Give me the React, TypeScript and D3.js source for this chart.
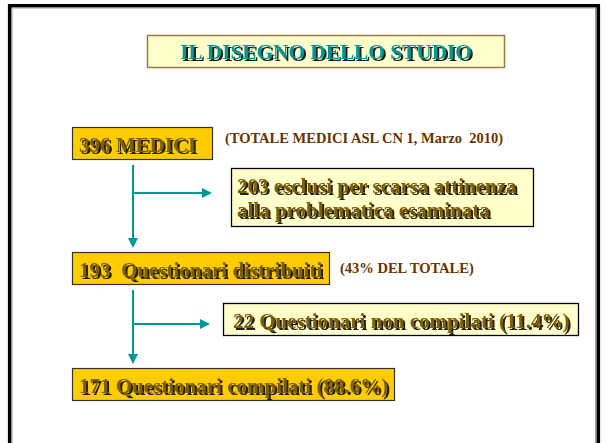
import React from 'react';
import * as d3 from 'd3';

// flow steps (main column) and side branches
const mainLabels = ['396 MEDICI', '193  Questionari distribuiti', '171 Questionari compilati (88.6%)'];
const mainNotes = ['(TOTALE MEDICI ASL CN 1, Marzo  2010)', '(43% DEL TOTALE)', ''];
const sideLabels = [
  ['203 esclusi per scarsa attinenza', 'alla problematica esaminata'],
  ['22 Questionari non compilati (11.4%)'],
];
const title = 'IL DISEGNO DELLO STUDIO';

const W = 605;
const H = 443;
const SERIF = "'Liberation Serif', 'DejaVu Serif', serif";

// layout
const mainTop = [127, 252, 368];
const mainWidth = [140, 257, 322];
const boxH = 32;
const sideBox = [
  { x: 231, y: 168, w: 302, h: 58, tipX: 212, branchY: 193 },
  { x: 223, y: 303, w: 355, h: 32, tipX: 210, branchY: 324 },
];
const noteX = [225, 340];
const noteY = [143, 273];

function ShadowText({ x, y, text, size, color, anchor = 'start', filter = 'url(#shadow)' }: any) {
  return (
    <text x={x} y={y} textAnchor={anchor} fill={color} filter={filter}
      style={{ fontFamily: SERIF, fontWeight: 'bold', fontSize: size, whiteSpace: 'pre' }}>
      {text}
    </text>
  );
}

export default function App() {
  const x0 = 72;
  const lineX = 133;
  const row = d3.scaleOrdinal<number, number>().domain([0, 1, 2]).range(mainTop);
  const teal = '#009999';

  return (
    <svg width={W} height={H} style={{ position: 'absolute', left: 0, top: 0, background: '#fff' }}>
      <defs>
        <filter id="shadow" x="-5%" y="-20%" width="110%" height="150%">
          <feOffset in="SourceAlpha" dx={1.6} dy={1.6} result="o" />
          <feFlood floodColor="#222" />
          <feComposite in2="o" operator="in" result="s" />
          <feMerge><feMergeNode in="s" /><feMergeNode in="SourceGraphic" /></feMerge>
        </filter>
        <filter id="shadowT" x="-5%" y="-20%" width="110%" height="150%">
          <feOffset in="SourceAlpha" dx={1.8} dy={1.8} result="o" />
          <feFlood floodColor="#1a1a1a" />
          <feComposite in2="o" operator="in" result="s" />
          <feMerge><feMergeNode in="s" /><feMergeNode in="SourceGraphic" /></feMerge>
        </filter>
      </defs>

      {/* slide frame */}
      <path d={`M9.7,${H} V5.7 H598.3 V${H}`} fill="none" stroke="#000" strokeWidth={3.6} />
      <path d={`M12,${H} V8 H595.5 V${H}`} fill="none" stroke="#999" strokeWidth={1} />

      {/* title */}
      <rect x={147.5} y={35.5} width={357} height={32} fill="#FFFFCC" stroke="#A07840" strokeWidth={1.5} />
      <ShadowText x={326} y={59} text={title} size={21.3} color="#009999" anchor="middle" filter="url(#shadowT)" />

      {/* connectors */}
      {[0, 1].map(i => {
        const top = row(i) + boxH + 6;
        const bottom = row(i + 1) - 4;
        const sb = sideBox[i];
        return (
          <g key={i}>
            <line x1={lineX} y1={top} x2={lineX} y2={bottom - 8} stroke={teal} strokeWidth={2} />
            <path d={`M${lineX - 5},${bottom - 10} L${lineX + 5},${bottom - 10} L${lineX},${bottom} Z`} fill={teal} />
            <line x1={lineX} y1={sb.branchY} x2={sb.tipX - 8} y2={sb.branchY} stroke={teal} strokeWidth={2} />
            <path d={`M${sb.tipX - 10},${sb.branchY - 5} L${sb.tipX - 10},${sb.branchY + 5} L${sb.tipX},${sb.branchY} Z`} fill={teal} />
          </g>
        );
      })}

      {/* main boxes */}
      {mainLabels.map((lab, i) => (
        <g key={lab}>
          <rect x={x0 + 0.5} y={row(i) + 0.5} width={mainWidth[i]} height={boxH} fill="#FFCC00" stroke="#333" strokeWidth={1.2} />
          <ShadowText x={x0 + 7} y={row(i) + 25} text={lab} size={21} color="#7F5F00" />
          {mainNotes[i] && (
            <text x={noteX[i]} y={noteY[i]} fill="#663300"
              style={{ fontFamily: SERIF, fontWeight: 'bold', fontSize: 14.5, whiteSpace: 'pre' }}>
              {mainNotes[i]}
            </text>
          )}
        </g>
      ))}

      {/* side boxes */}
      {sideBox.map((sb, i) => (
        <g key={i}>
          <rect x={sb.x + 0.5} y={sb.y + 0.5} width={sb.w} height={sb.h} fill="#FFFFCC" stroke="#000" strokeWidth={1.3} />
          {sideLabels[i].map((t, j) => (
            <ShadowText key={t} x={sb.x + (i === 0 ? 6 : 10)} y={sb.y + 25 + j * 24} text={t} size={21} color="#7F5F00" />
          ))}
        </g>
      ))}
    </svg>
  );
}
